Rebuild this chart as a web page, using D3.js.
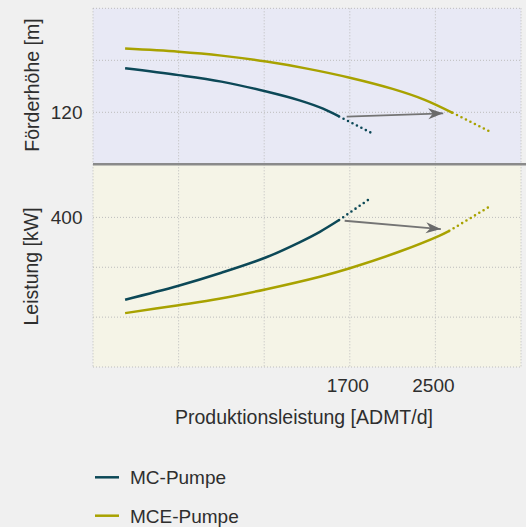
<!DOCTYPE html>
<html>
<head>
    <title></title>
    <meta charset="utf-8" />
    <style>
        body { margin: 0; background: #f0f0f0; }
        svg { display: block; }
        text { font-family: "Liberation Sans", Arial, sans-serif; fill: #2e2e2e; }
    </style>
    <script src="https://d3js.org/d3.v7.min.js"></script>
</head>
<body>

<svg id="svg"></svg>

<script>

// x: Produktionsleistung [ADMT/d]
let xGrid = [-700, 100, 900, 1700, 2500, 3300];
let xTickLabels = [1700, 2500];

// Förderhöhe [m]
let headGrid = [120, 140, 160];
let headTickLabels = [120];
let mcHeadX = [-400, 100, 500, 920, 1230, 1450, 1600];
let mcHeadY = [136.9, 134.3, 131.8, 128.0, 124.6, 121.4, 118.4];
let mcHeadExtX = [1600, 1910];
let mcHeadExtY = [118.4, 111.9];
let mceHeadX = [-400, 100, 500, 920, 1300, 1700, 2100, 2400, 2660];
let mceHeadY = [144.5, 143.3, 141.8, 139.5, 136.8, 133.3, 129.0, 124.8, 119.8];
let mceHeadExtX = [2660, 3030];
let mceHeadExtY = [119.8, 112.2];

// Leistung [kW]
let powerGrid = [100, 200, 300, 400];
let powerTickLabels = [400];
let mcPowerX = [-400, 100, 500, 920, 1230, 1420, 1600];
let mcPowerY = [235, 263, 289, 320, 350, 371, 394.6];
let mcPowerExtX = [1600, 1905];
let mcPowerExtY = [394.6, 440];
let mcePowerX = [-400, 100, 480, 920, 1420, 1700, 2160, 2535, 2630];
let mcePowerY = [208, 224, 237, 256, 281, 298, 331, 363, 373];
let mcePowerExtX = [2630, 3030];
let mcePowerExtY = [373, 424.7];

// arrows MC -> MCE  [x1, y1, x2, y2]
let headArrow = [1671, 118.3, 2573, 119.6];
let powerArrow = [1652, 393.2, 2551, 376.5];

let series = ["MC-Pumpe", "MCE-Pumpe"];
let colors = ["#0c4857", "#a8a200"];

let W = 526, H = 527;

let svg = d3.select("#svg")
    .attr("width", W)
    .attr("height", H);

let x = d3.scaleLinear().domain([-700, 3300]).range([93, 521]);
let yHead = d3.scaleLinear().domain([100, 160]).range([164.3, 8.3]);
let yPower = d3.scaleLinear().domain([100, 500]).range([367, 167.5]);

let defs = svg.append("defs");
defs.append("marker")
    .attr("id", "arrowhead")
    .attr("viewBox", "-16 -6 17 12")
    .attr("markerWidth", 17)
    .attr("markerHeight", 12)
    .attr("markerUnits", "userSpaceOnUse")
    .attr("refX", 0)
    .attr("refY", 0)
    .attr("orient", "auto")
    .append("path")
    .attr("d", "M0,0 L-15,-5.5 L-10.5,0 L-15,5.5 Z")
    .attr("fill", "#6a6a6a");

// panel backgrounds
svg.append("rect")
    .attr("x", x.range()[0]).attr("y", yHead(160))
    .attr("width", x.range()[1] - x.range()[0])
    .attr("height", yHead(100) - yHead(160))
    .attr("fill", "#e8e9f5");

svg.append("rect")
    .attr("x", x.range()[0]).attr("y", yHead(100))
    .attr("width", x.range()[1] - x.range()[0])
    .attr("height", yPower(100) - yHead(100))
    .attr("fill", "#f5f4e7");

// grid
let grid = svg.append("g")
    .attr("stroke", "#bcbcbc")
    .attr("stroke-width", 1)
    .attr("stroke-dasharray", "1,2");

grid.selectAll(".vgrid")
    .data(xGrid)
    .enter()
    .append("line")
    .attr("x1", d => x(d)).attr("x2", d => x(d))
    .attr("y1", yHead(160)).attr("y2", yPower(100));

grid.selectAll(".hgrid-head")
    .data(headGrid)
    .enter()
    .append("line")
    .attr("x1", x.range()[0]).attr("x2", x.range()[1])
    .attr("y1", d => yHead(d)).attr("y2", d => yHead(d));

grid.selectAll(".hgrid-power")
    .data(powerGrid)
    .enter()
    .append("line")
    .attr("x1", x.range()[0]).attr("x2", x.range()[1])
    .attr("y1", d => yPower(d)).attr("y2", d => yPower(d));

// divider between the two panels
svg.append("line")
    .attr("x1", x.range()[0]).attr("x2", W)
    .attr("y1", yHead(100)).attr("y2", yHead(100))
    .attr("stroke", "#8a8a8a")
    .attr("stroke-width", 2.6);

function zip(xs, ys) {
    return xs.map(function(v, i) { return [v, ys[i]]; });
}

function drawCurve(xs, ys, yScale, color, dotted) {
    let line = d3.line()
        .x(d => x(d[0]))
        .y(d => yScale(d[1]))
        .curve(d3.curveCatmullRom.alpha(0.5));
    let path = svg.append("path")
        .datum(zip(xs, ys))
        .attr("d", line)
        .attr("fill", "none")
        .attr("stroke", color);
    if (dotted) {
        path.attr("stroke-width", 2.6)
            .attr("stroke-linecap", "round")
            .attr("stroke-dasharray", "0,5");
    } else {
        path.attr("stroke-width", 2.5);
    }
}

drawCurve(mcHeadX, mcHeadY, yHead, colors[0], false);
drawCurve(mcHeadExtX, mcHeadExtY, yHead, colors[0], true);
drawCurve(mceHeadX, mceHeadY, yHead, colors[1], false);
drawCurve(mceHeadExtX, mceHeadExtY, yHead, colors[1], true);

drawCurve(mcPowerX, mcPowerY, yPower, colors[0], false);
drawCurve(mcPowerExtX, mcPowerExtY, yPower, colors[0], true);
drawCurve(mcePowerX, mcePowerY, yPower, colors[1], false);
drawCurve(mcePowerExtX, mcePowerExtY, yPower, colors[1], true);

// arrows
[[headArrow, yHead], [powerArrow, yPower]].forEach(function(a) {
    let d = a[0], ys = a[1];
    svg.append("line")
        .attr("x1", x(d[0])).attr("y1", ys(d[1]))
        .attr("x2", x(d[2])).attr("y2", ys(d[3]))
        .attr("stroke", "#747474")
        .attr("stroke-width", 1.8)
        .attr("marker-end", "url(#arrowhead)");
});

// tick labels
svg.selectAll(".xtick")
    .data(xTickLabels)
    .enter()
    .append("text")
    .attr("x", d => x(d) - 2)
    .attr("y", 392)
    .attr("text-anchor", "middle")
    .attr("font-size", 19)
    .text(d => d);

svg.selectAll(".headtick")
    .data(headTickLabels)
    .enter()
    .append("text")
    .attr("x", 82.5)
    .attr("y", d => yHead(d) + 7)
    .attr("text-anchor", "end")
    .attr("font-size", 19)
    .text(d => d);

svg.selectAll(".powertick")
    .data(powerTickLabels)
    .enter()
    .append("text")
    .attr("x", 82.5)
    .attr("y", d => yPower(d) + 7)
    .attr("text-anchor", "end")
    .attr("font-size", 19)
    .text(d => d);

// axis titles
svg.append("text")
    .attr("transform", "translate(38.5,85) rotate(-90)")
    .attr("text-anchor", "middle")
    .attr("font-size", 19.5)
    .text("Förderhöhe [m]");

svg.append("text")
    .attr("transform", "translate(37.5,266.5) rotate(-90)")
    .attr("text-anchor", "middle")
    .attr("font-size", 19.5)
    .text("Leistung [kW]");

svg.append("text")
    .attr("x", 304)
    .attr("y", 424)
    .attr("text-anchor", "middle")
    .attr("font-size", 19.5)
    .text("Produktionsleistung [ADMT/d]");

// legend
let legend = svg.selectAll(".legend")
    .data(series)
    .enter()
    .append("g")
    .attr("transform", (d, i) => "translate(95," + (477.3 + i * 38.4) + ")");

legend.append("line")
    .attr("x1", 0).attr("x2", 24)
    .attr("stroke", (d, i) => colors[i])
    .attr("stroke-width", 2.5);

legend.append("text")
    .attr("x", 35)
    .attr("y", 7)
    .attr("font-size", 19)
    .text(d => d);

</script>

</body>
</html>
